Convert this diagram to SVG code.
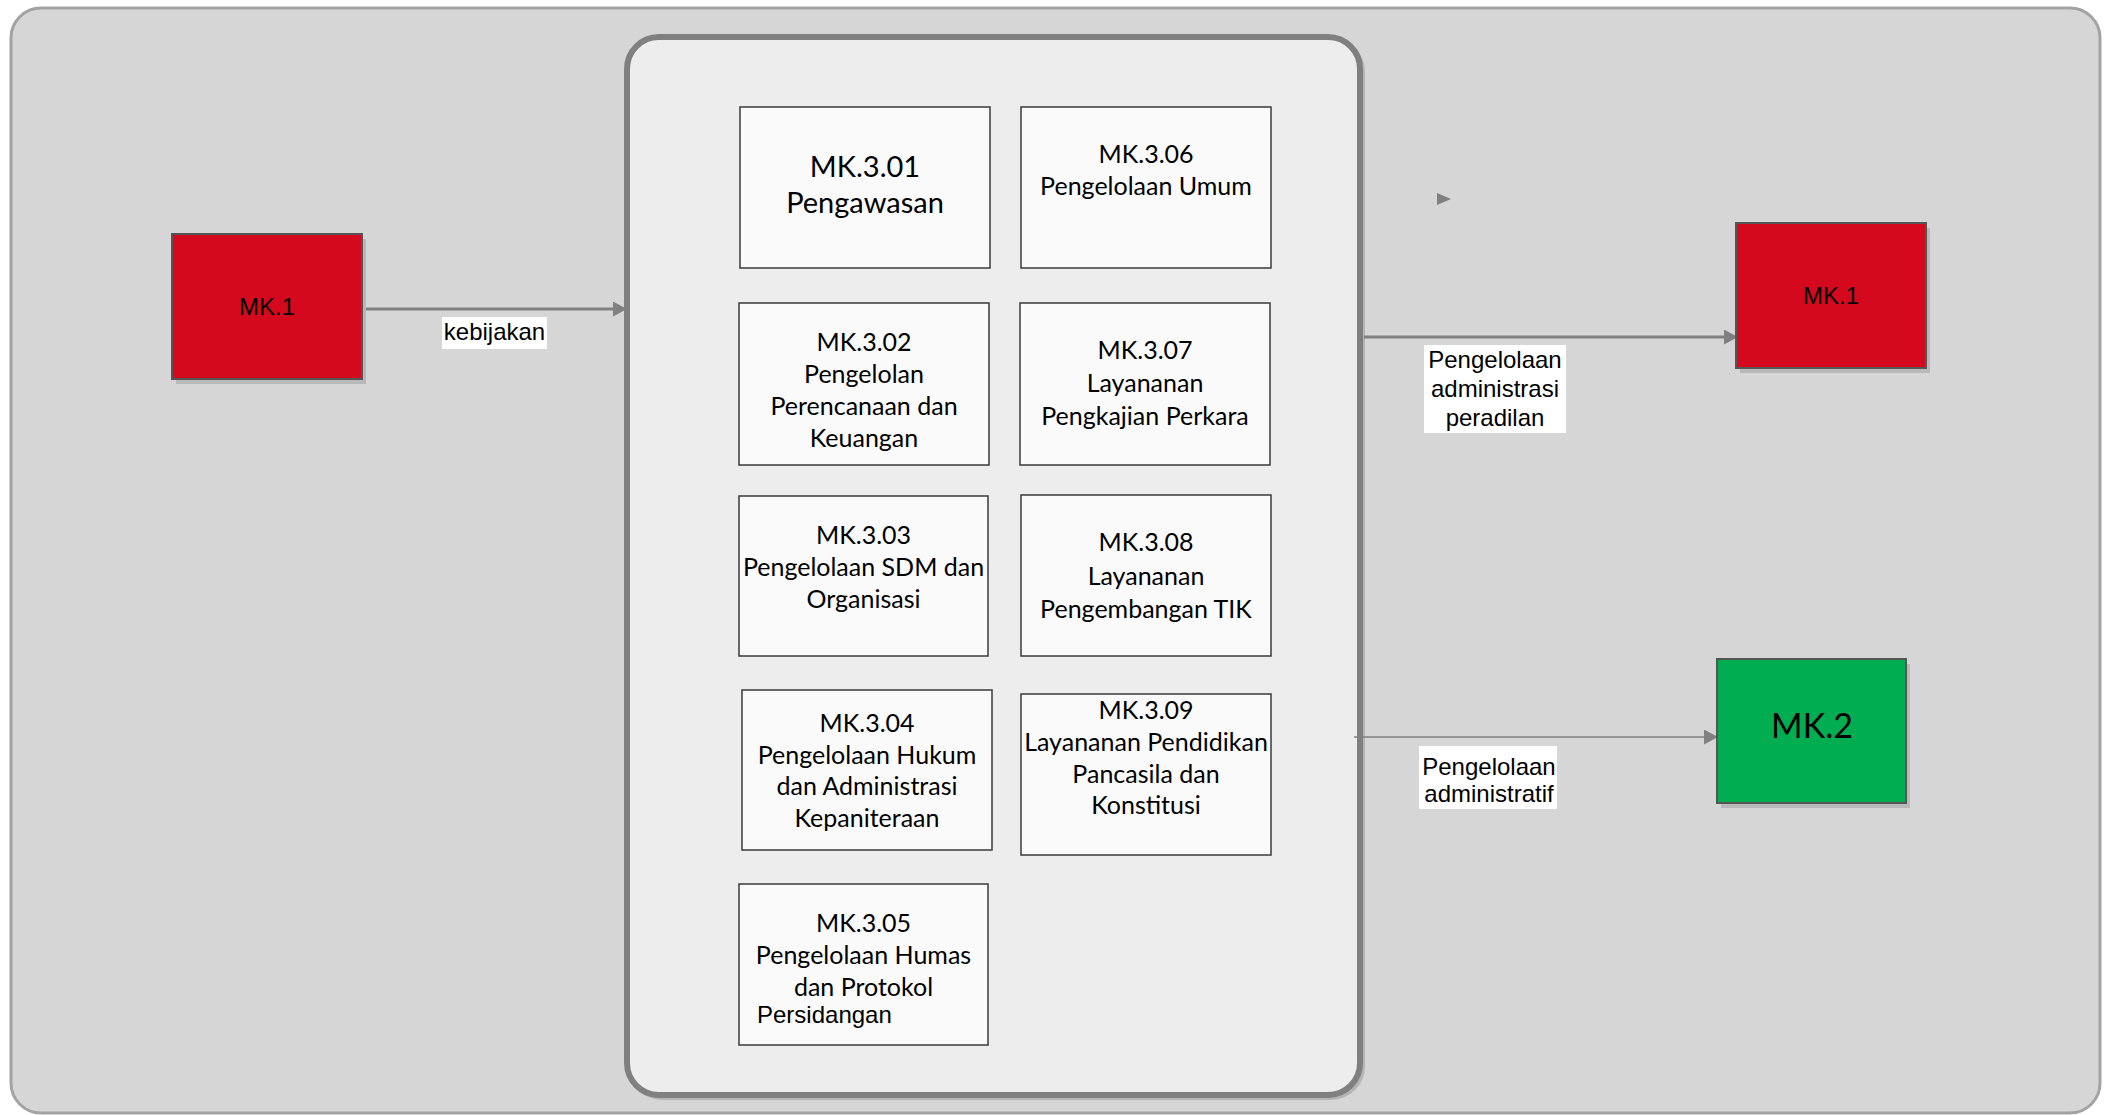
<svg xmlns="http://www.w3.org/2000/svg" width="2112" height="1115" viewBox="0 0 2112 1115">
<defs>
<style>
.bg{fill:#d6d6d6;stroke:#a3a3a3;stroke-width:3}
.inner{fill:#ededed;stroke:#808080;stroke-width:6}
.innershadow{fill:none;stroke:#b4b4b4;stroke-width:4}
.box{fill:#fafafa;stroke:#3a3a3a;stroke-width:1.5}
.red{fill:#d4091d;stroke:#555;stroke-width:2}
.green{fill:#00ad50;stroke:#555;stroke-width:2}
.shadow{fill:#b9b9b9}
.t{font-family:Lato,"Open Sans",sans-serif;font-size:25px;fill:#000;text-anchor:middle}
.a{font-family:"Liberation Sans",Arial,sans-serif;font-size:24px;fill:#000;text-anchor:middle}
.conn{stroke:#808080;stroke-width:3;fill:none}
.lbl{fill:#fff}
</style>
<marker id="arr" markerUnits="userSpaceOnUse" markerWidth="15" markerHeight="15" refX="14" refY="7.5" orient="auto">
<path d="M0,0 L14,7.5 L0,15 z" fill="#808080"/>
</marker>
</defs>

<g id="background">
<rect class="bg" x="11" y="8" width="2089" height="1105" rx="30"/>
</g>

<g id="container">
<rect class="innershadow" x="630" y="40" width="733" height="1058" rx="32"/>
<rect class="inner" x="627" y="37" width="733" height="1058" rx="32"/>
</g>

<g id="connectors">
<line class="conn" x1="366" y1="309" x2="627" y2="309" marker-end="url(#arr)"/>
<line class="conn" x1="1364" y1="337" x2="1738" y2="337" marker-end="url(#arr)"/>
<line class="conn" style="stroke-width:1.5" x1="1354" y1="737" x2="1718" y2="737" marker-end="url(#arr)"/>
<polygon points="1437,193 1451,199 1437,205" fill="#808080"/>
</g>

<g id="label-kebijakan">
<rect class="lbl" x="442" y="317" width="105" height="32"/>
<text class="a" x="494.5" y="340">kebijakan</text>
</g>
<g id="label-peradilan">
<rect class="lbl" x="1424" y="345" width="142" height="88"/>
<text class="a" x="1495" y="368">Pengelolaan</text>
<text class="a" x="1495" y="397">administrasi</text>
<text class="a" x="1495" y="426">peradilan</text>
</g>
<g id="label-administratif">
<rect class="lbl" x="1419" y="746" width="138" height="63"/>
<text class="a" x="1489" y="775">Pengelolaan</text>
<text class="a" x="1489" y="802">administratif</text>
</g>

<g id="mk1-left">
<rect class="shadow" x="176" y="239" width="190" height="145"/>
<rect class="red" x="172" y="234" width="190" height="145"/>
<text class="a" x="267" y="315">MK.1</text>
</g>

<g id="mk1-right">
<rect class="shadow" x="1740" y="228" width="190" height="145"/>
<rect class="red" x="1736" y="223" width="190" height="145"/>
<text class="a" x="1831" y="304">MK.1</text>
</g>

<g id="mk2">
<rect class="shadow" x="1721" y="664" width="189" height="144"/>
<rect class="green" x="1717" y="659" width="189" height="144"/>
<text class="t" style="font-size:34px" x="1812" y="738">MK.2</text>
</g>

<g id="mk301">
<rect class="box" x="740" y="107" width="250" height="161"/>
<text class="t" style="font-size:29px" x="865" y="177">MK.3.01</text>
<text class="t" style="font-size:29px" x="865" y="213">Pengawasan</text>
</g>

<g id="mk306">
<rect class="box" x="1021" y="107" width="250" height="161"/>
<text class="t" x="1146" y="163">MK.3.06</text>
<text class="t" x="1146" y="195">Pengelolaan Umum</text>
</g>

<g id="mk302">
<rect class="box" x="739" y="303" width="250" height="162"/>
<text class="t" x="864" y="351">MK.3.02</text>
<text class="t" x="864" y="383">Pengelolan</text>
<text class="t" x="864" y="415">Perencanaan dan</text>
<text class="t" x="864" y="447">Keuangan</text>
</g>

<g id="mk307">
<rect class="box" x="1020" y="303" width="250" height="162"/>
<text class="t" x="1145" y="359">MK.3.07</text>
<text class="t" x="1145" y="392">Layananan</text>
<text class="t" x="1145" y="425">Pengkajian Perkara</text>
</g>

<g id="mk303">
<rect class="box" x="739" y="496" width="249" height="160"/>
<text class="t" x="863.5" y="544">MK.3.03</text>
<text class="t" x="863.5" y="576">Pengelolaan SDM dan</text>
<text class="t" x="863.5" y="608">Organisasi</text>
</g>

<g id="mk308">
<rect class="box" x="1021" y="495" width="250" height="161"/>
<text class="t" x="1146" y="551">MK.3.08</text>
<text class="t" x="1146" y="585">Layananan</text>
<text class="t" x="1146" y="618">Pengembangan TIK</text>
</g>

<g id="mk304">
<rect class="box" x="742" y="690" width="250" height="160"/>
<text class="t" x="867" y="732">MK.3.04</text>
<text class="t" x="867" y="764">Pengelolaan Hukum</text>
<text class="t" x="867" y="795">dan Administrasi</text>
<text class="t" x="867" y="827">Kepaniteraan</text>
</g>

<g id="mk309">
<rect class="box" x="1021" y="694" width="250" height="161"/>
<text class="t" x="1146" y="719">MK.3.09</text>
<text class="t" x="1146" y="751">Layananan Pendidikan</text>
<text class="t" x="1146" y="783">Pancasila dan</text>
<text class="t" x="1146" y="814">Konstitusi</text>
</g>

<g id="mk305">
<rect class="box" x="739" y="884" width="249" height="161"/>
<text class="t" x="863.5" y="932">MK.3.05</text>
<text class="t" x="863.5" y="964">Pengelolaan Humas</text>
<text class="t" x="863.5" y="996">dan Protokol</text>
<text class="a" style="text-anchor:start" x="757" y="1023">Persidangan</text>
</g>
</svg>
